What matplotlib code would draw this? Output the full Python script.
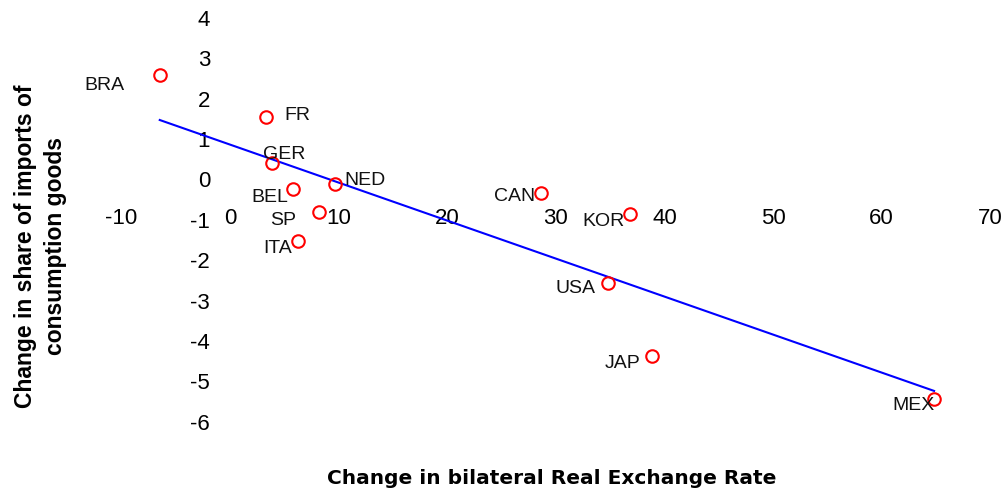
import numpy as np
import matplotlib
matplotlib.use("Agg")
import matplotlib.pyplot as plt

plt.rcParams['font.family'] = ['Liberation Sans', 'DejaVu Sans']

# ---- data ----
countries = ["BRA", "FR", "GER", "BEL", "NED", "SP", "ITA", "CAN", "KOR", "USA", "JAP", "MEX"]
rer_change = [-6.47, 3.34, 3.84, 5.77, 9.70, 8.17, 6.26, 28.61, 36.83, 34.83, 38.83, 64.83]
share_change = [2.59, 1.54, 0.40, -0.24, -0.10, -0.80, -1.51, -0.33, -0.86, -2.57, -4.37, -5.44]
x_ticks = [-10, 0, 10, 20, 30, 40, 50, 60, 70]
y_ticks = [-6, -5, -4, -3, -2, -1, 0, 1, 2, 3, 4]

# label offsets in pixels (dx, dy downward)
label_offsets = {
    "BRA": (-55, 11), "FR": (31, -2), "GER": (12, -9), "BEL": (-23, 8),
    "NED": (30, -3), "SP": (-36, 9), "ITA": (-20, 8), "CAN": (-26, 4),
    "KOR": (-26, 7), "USA": (-33, 5), "JAP": (-29, 7), "MEX": (-21, 6),
}

x = np.array(rer_change)
y = np.array(share_change)

fig = plt.figure(figsize=(10.05, 4.93), dpi=100)
ax = fig.add_axes([0, 0, 1, 1])
ax.set_xlim(-21.18, 71.36)
ax.set_ylim(-7.76, 4.443)

# trend line (OLS)
slope, intercept = np.polyfit(x, y, 1)
xx = np.array([x.min(), x.max()])
ax.plot(xx, slope * xx + intercept, color='#0000FF', lw=1.5, zorder=2)

ax.plot(x, y, linestyle='none', marker='o', markersize=9, markerfacecolor='none',
        markeredgecolor='#FF0000', markeredgewidth=1.5, zorder=3)

for c, xi, yi in zip(countries, x, y):
    dx, dy = label_offsets[c]
    ax.annotate(c, (xi, yi), xytext=(dx * 0.72, -dy * 0.72), textcoords='offset points',
                ha='center', va='center', fontsize=14, color='#111111', zorder=4)

for s in ax.spines.values():
    s.set_visible(False)
ax.spines['left'].set_position(('data', 0))
ax.spines['bottom'].set_position(('data', 0))
ax.set_xticks(x_ticks)
ax.set_yticks(y_ticks)
ax.set_xticklabels([str(v) for v in x_ticks])
ax.set_yticklabels([str(v) for v in y_ticks])
ax.tick_params(axis='x', length=0, pad=20.5, labelsize=16)
ax.tick_params(axis='y', length=0, pad=14.4, labelsize=16)

fig.text(40.5 / 1005, 1 - 246 / 493, "Change in share of imports of\nconsumption goods",
         rotation=90, ha='center', va='center', fontsize=16.5, fontweight='bold',
         multialignment='center', linespacing=1.35)
fig.text(552 / 1005, 1 - 478 / 493, "Change in bilateral Real Exchange Rate",
         ha='center', va='center', fontsize=14.5, fontweight='bold',
         family=['DejaVu Sans'])

fig.savefig("out.png", dpi=100)
